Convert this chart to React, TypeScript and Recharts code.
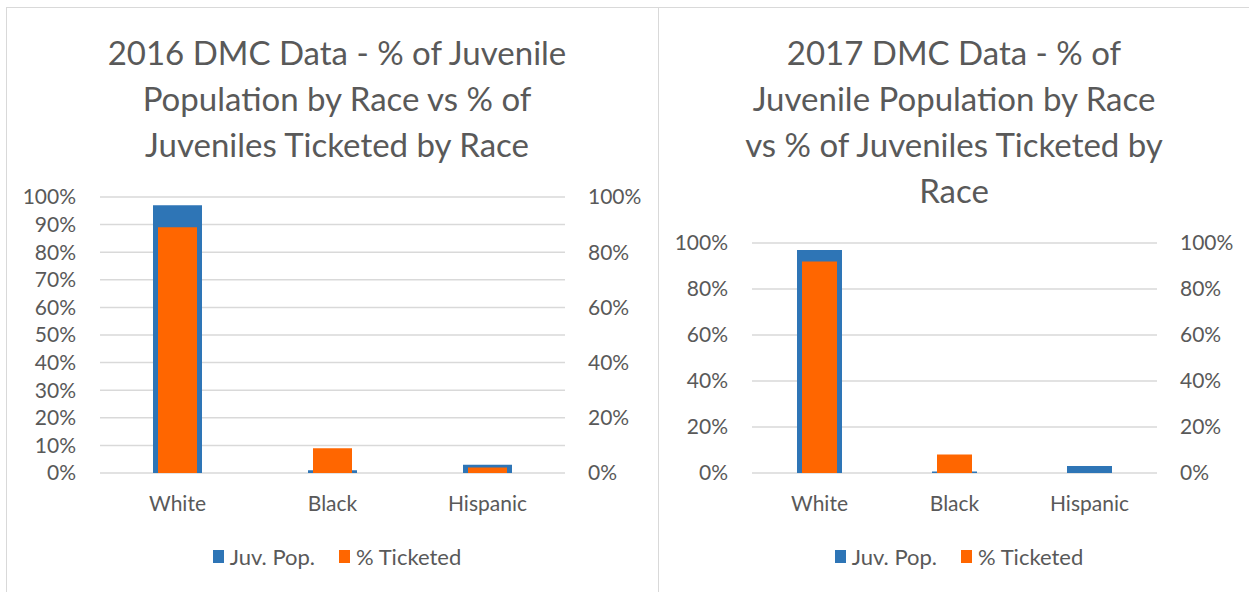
import React from "react";
import { BarChart, Bar, XAxis, YAxis, CartesianGrid } from "recharts";

const races = ["White", "Black", "Hispanic"];
const juvPop2016 = [0.97, 0.01, 0.03];
const ticketed2016 = [0.89, 0.09, 0.02];
const juvPop2017 = [0.97, 0.006, 0.03];
const ticketed2017 = [0.92, 0.08, 0];
const ticksByTen = [0, 0.1, 0.2, 0.3, 0.4, 0.5, 0.6, 0.7, 0.8, 0.9, 1];
const ticksByTwenty = [0, 0.2, 0.4, 0.6, 0.8, 1];
const seriesNames = ["Juv. Pop.", "% Ticketed"];
const seriesColors = ["#2E75B6", "#FF6600"];
const title2016 = ["2016 DMC Data - % of Juvenile", "Population by Race vs % of", "Juveniles Ticketed by Race"];
const title2017 = ["2017 DMC Data - % of", "Juvenile Population by Race", "vs % of Juveniles Ticketed by", "Race"];

const FONT = "Lato, 'Noto Sans', sans-serif";
const TEXT = "#595959";
const pct = (v: number) => `${Math.round(v * 100)}%`;

interface PanelProps {
  left: number;
  width: number;
  title: string[];
  pop: number[];
  ticketed: number[];
  leftTicks: number[];
  plotTop: number;
  leftAxisW: number;
  rightAxisW: number;
  popBar: number;
  ticketBar: number;
  titleCenter: number;
  legendCenter: number;
}

function Panel(p: PanelProps) {
  const data = races.map((race, i) => ({ race, pop: p.pop[i], ticketed: p.ticketed[i] }));
  const tickStyle = { fill: TEXT, fontSize: 21, fontFamily: FONT };
  return (
    <div style={{ position: "absolute", left: p.left, top: 0, width: p.width, height: 592 }}>
      <div
        style={{
          position: "absolute",
          left: p.titleCenter - 300,
          width: 600,
          top: 29,
          textAlign: "center",
          fontFamily: FONT,
          fontSize: 33,
          lineHeight: "46px",
          color: TEXT,
        }}
      >
        {p.title.map((line) => (
          <div key={line}>{line}</div>
        ))}
      </div>
      <BarChart
        width={p.width}
        height={592}
        data={data}
        margin={{ top: p.plotTop, right: 0, bottom: 89, left: 0 }}
        style={{ position: "absolute", left: 0, top: 0 }}
      >
        <CartesianGrid vertical={false} stroke="#d9d9d9" strokeWidth={1.5} yAxisId="left" xAxisId="a" />
        <XAxis
          xAxisId="a"
          dataKey="race"
          interval={0}
          axisLine={false}
          tickLine={false}
          tickSize={0}
          tickMargin={23}
          height={30}
          tick={tickStyle}
        />
        <XAxis xAxisId="b" dataKey="race" hide />
        <YAxis
          yAxisId="left"
          domain={[0, 1]}
          ticks={p.leftTicks}
          interval={0}
          tickFormatter={pct}
          width={p.leftAxisW}
          axisLine={false}
          tickLine={false}
          tickSize={0}
          tickMargin={24}
          tick={tickStyle}
        />
        <YAxis
          yAxisId="right"
          orientation="right"
          domain={[0, 1]}
          ticks={ticksByTwenty}
          interval={0}
          tickFormatter={pct}
          width={p.rightAxisW}
          axisLine={false}
          tickLine={false}
          tickSize={0}
          tickMargin={23}
          tick={tickStyle}
        />
        <Bar xAxisId="a" yAxisId="left" dataKey="pop" name={seriesNames[0]} fill={seriesColors[0]} barSize={p.popBar} isAnimationActive={false} />
        <Bar xAxisId="b" yAxisId="right" dataKey="ticketed" name={seriesNames[1]} fill={seriesColors[1]} barSize={p.ticketBar} isAnimationActive={false} />
      </BarChart>
      <div
        style={{
          position: "absolute",
          left: p.legendCenter - 200,
          width: 400,
          top: 543,
          display: "flex",
          justifyContent: "center",
          alignItems: "center",
          fontFamily: FONT,
          fontSize: 22,
          color: TEXT,
        }}
      >
        {seriesNames.map((name, i) => (
          <div key={name} style={{ display: "flex", alignItems: "center", marginRight: i === 0 ? 24 : 0 }}>
            <span style={{ display: "inline-block", width: 11, height: 13, background: seriesColors[i], marginRight: 6 }} />
            <span>{name}</span>
          </div>
        ))}
      </div>
    </div>
  );
}

export default function App() {
  return (
    <div style={{ position: "absolute", left: 0, top: 0, width: 1249, height: 592, background: "#fff", overflow: "hidden" }}>
      <div style={{ position: "absolute", left: 6, top: 7, width: 1249, height: 1, background: "#d9d9d9" }} />
      <div style={{ position: "absolute", left: 6, top: 7, width: 1, height: 600, background: "#d9d9d9" }} />
      <div style={{ position: "absolute", left: 658, top: 7, width: 1, height: 600, background: "#d9d9d9" }} />
      <Panel
        left={0}
        width={650}
        title={title2016}
        pop={juvPop2016}
        ticketed={ticketed2016}
        leftTicks={ticksByTen}
        plotTop={197}
        leftAxisW={100}
        rightAxisW={85}
        popBar={49}
        ticketBar={39}
        titleCenter={337}
        legendCenter={337}
      />
      <Panel
        left={658}
        width={591}
        title={title2017}
        pop={juvPop2017}
        ticketed={ticketed2017}
        leftTicks={ticksByTwenty}
        plotTop={243}
        leftAxisW={94}
        rightAxisW={92}
        popBar={45}
        ticketBar={35}
        titleCenter={296}
        legendCenter={301}
      />
    </div>
  );
}
